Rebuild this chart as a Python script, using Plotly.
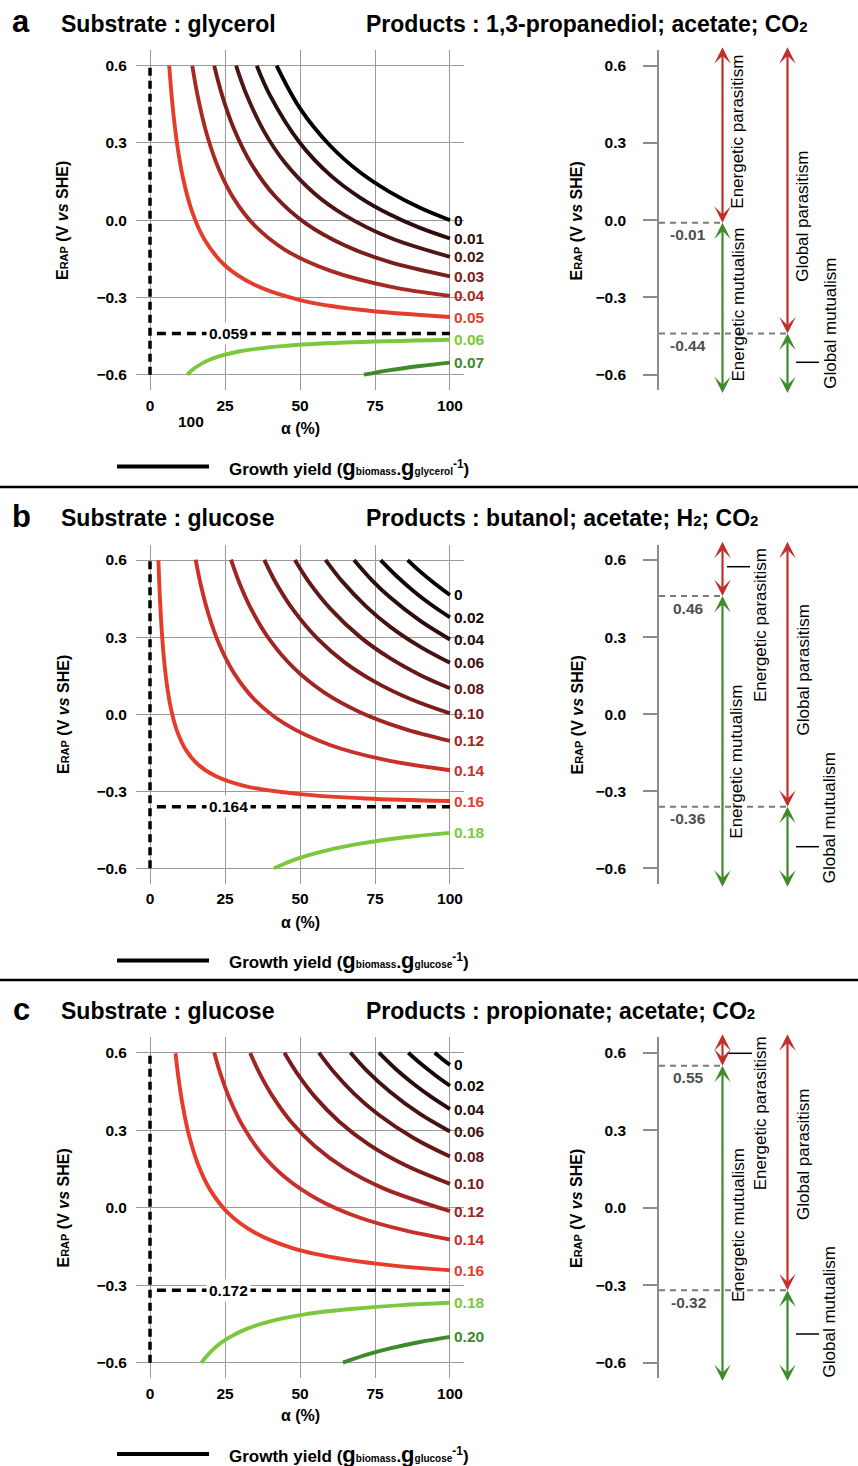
import plotly.graph_objects as go

# ======================= DATA =======================
# Panel a : glycerol -> 1,3-propanediol; acetate; CO2
a_labels = ["0", "0.01", "0.02", "0.03", "0.04", "0.05", "0.06", "0.07"]
a_alpha = [
    [42.2, 50, 60, 70, 80, 90, 100],
    [35.6, 40, 50, 60, 70, 80, 90, 100],
    [28.7, 32, 38, 45, 55, 65, 80, 100],
    [21.4, 24, 28, 34, 42, 52, 65, 80, 100],
    [14.1, 16, 19, 23, 28, 35, 45, 60, 80, 100],
    [6.4, 7.5, 9, 11, 14, 18, 25, 35, 50, 70, 100],
    [12.4, 15, 20, 30, 45, 65, 100],
    [71.3, 80, 90, 100],
]
a_erap = [
    [0.60, 0.434, 0.290, 0.186, 0.109, 0.048, 0.0],
    [0.60, 0.485, 0.300, 0.176, 0.088, 0.022, -0.030, -0.071],
    [0.60, 0.492, 0.345, 0.223, 0.102, 0.019, -0.068, -0.142],
    [0.60, 0.487, 0.354, 0.214, 0.089, -0.013, -0.098, -0.163, -0.218],
    [0.60, 0.476, 0.331, 0.197, 0.083, -0.022, -0.115, -0.196, -0.258, -0.294],
    [0.60, 0.447, 0.299, 0.164, 0.034, -0.072, -0.176, -0.252, -0.310, -0.348, -0.376],
    [-0.60, -0.573, -0.541, -0.509, -0.488, -0.475, -0.464],
    [-0.60, -0.582, -0.566, -0.553],
]
a_colors = ["#000000", "#2b0f0f", "#4d1616", "#7a1e1c", "#a82a24", "#e63c2b", "#7cc83c", "#3e8a2b"]
a_yield_limit = "0.059"
a_energetic_limit, a_energetic_text = -0.01, "-0.01"
a_global_limit, a_global_text = -0.44, "-0.44"

# Panel b : glucose -> butanol; acetate; H2; CO2
b_labels = ["0", "0.02", "0.04", "0.06", "0.08", "0.10", "0.12", "0.14", "0.16", "0.18"]
b_alpha = [
    [85.9, 90, 95, 100],
    [76.9, 82, 88, 94, 100],
    [68, 74, 80, 90, 100],
    [58.5, 64, 72, 80, 90, 100],
    [48.3, 53, 60, 70, 80, 90, 100],
    [38.1, 42, 48, 56, 65, 75, 87, 100],
    [27, 30, 34, 40, 48, 58, 70, 84, 100],
    [15.2, 17, 19.5, 23, 28, 35, 45, 60, 78, 100],
    [2.8, 3.2, 3.8, 4.6, 5.6, 7, 9, 12, 16, 22, 32, 50, 72, 100],
    [41.3, 45, 50, 60, 70, 85, 100],
]
b_erap = [
    [0.600, 0.556, 0.508, 0.464],
    [0.600, 0.540, 0.478, 0.424, 0.377],
    [0.600, 0.521, 0.455, 0.364, 0.291],
    [0.601, 0.518, 0.420, 0.341, 0.263, 0.200],
    [0.600, 0.514, 0.412, 0.301, 0.218, 0.153, 0.101],
    [0.601, 0.511, 0.402, 0.292, 0.201, 0.126, 0.058, 0.003],
    [0.602, 0.505, 0.403, 0.288, 0.179, 0.085, 0.008, -0.054, -0.104],
    [0.602, 0.500, 0.389, 0.274, 0.160, 0.055, -0.038, -0.120, -0.177, -0.218],
    [0.599, 0.479, 0.346, 0.222, 0.117, 0.021, -0.065, -0.140, -0.196, -0.242, -0.281, -0.311, -0.328, -0.338],
    [-0.600, -0.581, -0.559, -0.527, -0.504, -0.479, -0.462],
]
b_colors = ["#000000", "#160707", "#2a0c0c", "#451212", "#601818", "#7a1c1c", "#a02624", "#c8302a", "#e63c2b", "#7cc83c"]
b_yield_limit = "0.164"
b_energetic_limit, b_energetic_text = 0.46, "0.46"
b_global_limit, b_global_text = -0.36, "-0.36"

# Panel c : glucose -> propionate; acetate; CO2
c_labels = ["0", "0.02", "0.04", "0.06", "0.08", "0.10", "0.12", "0.14", "0.16", "0.18", "0.20"]
c_alpha = [
    [94.9, 97.5, 100],
    [86.1, 90, 95, 100],
    [76.3, 82, 88, 94, 100],
    [66.8, 72, 80, 90, 100],
    [56.3, 61, 68, 76, 88, 100],
    [44.8, 49, 55, 63, 73, 85, 100],
    [33.4, 36.5, 41, 47, 55, 65, 78, 100],
    [21.4, 23.5, 26.5, 31, 37, 45, 56, 70, 85, 100],
    [8.5, 9.5, 11, 13, 16, 20, 26, 35, 48, 65, 82, 100],
    [17.1, 19, 22, 26, 32, 40, 52, 68, 84, 100],
    [64.3, 72, 80, 90, 100],
]
c_erap = [
    [0.600, 0.575, 0.553],
    [0.600, 0.560, 0.514, 0.472],
    [0.600, 0.536, 0.478, 0.427, 0.382],
    [0.601, 0.534, 0.449, 0.363, 0.295],
    [0.600, 0.529, 0.442, 0.362, 0.269, 0.198],
    [0.600, 0.521, 0.429, 0.334, 0.244, 0.165, 0.092],
    [0.599, 0.521, 0.429, 0.333, 0.238, 0.152, 0.074, -0.013],
    [0.601, 0.518, 0.423, 0.315, 0.212, 0.118, 0.032, -0.039, -0.088, -0.123],
    [0.598, 0.501, 0.389, 0.280, 0.168, 0.070, -0.020, -0.097, -0.158, -0.200, -0.225, -0.242],
    [-0.601, -0.573, -0.538, -0.505, -0.470, -0.440, -0.412, -0.391, -0.377, -0.368],
    [-0.600, -0.570, -0.545, -0.520, -0.500],
]
c_colors = ["#000000", "#160707", "#2a0c0c", "#451212", "#601818", "#7a1c1c", "#a02624", "#c8302a", "#e63c2b", "#7cc83c", "#3e8a2b"]
c_yield_limit = "0.172"
c_energetic_limit, c_energetic_text = 0.55, "0.55"
c_global_limit, c_global_text = -0.32, "-0.32"

alpha_ticks = [0, 25, 50, 75, 100]
erap_ticks = [-0.6, -0.3, 0.0, 0.3, 0.6]
erap_ticktext = ["\u22120.6", "\u22120.3", "0.0", "0.3", "0.6"]

# ======================= STYLE / LAYOUT =======================
W, H = 858, 1466
FONT = "Liberation Sans, Arial, sans-serif"
RED, GREEN = "#c0302a", "#3f8b2c"
AXGRAY = "#8c8c8c"
ARROW_END = 0.677  # arrows run slightly beyond the +-0.6 span
YR = 0.66


def px(x):
    return x / W


def py(y):
    return 1 - y / H


panels = [
    dict(tag="a", substrate="glycerol",
         products="1,3-propanediol; acetate; CO<span style='font-size:15px'>2</span>",
         labels=a_labels, alpha=a_alpha, erap=a_erap, colors=a_colors,
         ylim=a_yield_limit, el=a_energetic_limit, et=a_energetic_text,
         gl=a_global_limit, gt=a_global_text, yc=220.2, s=257.5,
         texts=[(738, 131.7), (738, 304.5), (802.5, 216.3), (830.5, 323.3)],
         leaders=[(796, 819, 362.3)], extra100=True),
    dict(tag="b", substrate="glucose",
         products="butanol; acetate; H<span style='font-size:15px'>2</span>; CO<span style='font-size:15px'>2</span>",
         labels=b_labels, alpha=b_alpha, erap=b_erap, colors=b_colors,
         ylim=b_yield_limit, el=b_energetic_limit, et=b_energetic_text,
         gl=b_global_limit, gt=b_global_text, yc=714.2, s=256.9,
         texts=[(760, 625), (737, 761.7), (802.5, 670), (829, 818.3)],
         leaders=[(727, 750, 566.7), (796, 819, 846.7)], extra100=False),
    dict(tag="c", substrate="glucose",
         products="propionate; acetate; CO<span style='font-size:15px'>2</span>",
         labels=c_labels, alpha=c_alpha, erap=c_erap, colors=c_colors,
         ylim=c_yield_limit, el=c_energetic_limit, et=c_energetic_text,
         gl=c_global_limit, gt=c_global_text, yc=1207.7, s=258.3,
         texts=[(760, 1113.3), (738, 1225), (803, 1155), (829.7, 1311.7)],
         leaders=[(727, 752, 1053.3), (796, 819, 1334)], extra100=False),
]

fig = go.Figure()
layout = dict(width=W, height=H, margin=dict(l=0, r=0, t=0, b=0),
              paper_bgcolor="white", plot_bgcolor="white", showlegend=False,
              font=dict(family=FONT, color="black"))
annotations = []
shapes = []

ytitle = "<b>E<span style='font-size:11px'>RAP</span> (V <i>vs</i> SHE)</b>"

for i, p in enumerate(panels):
    nl, nr = 2 * i + 1, 2 * i + 2
    kl = "" if nl == 1 else str(nl)
    kr = str(nr)
    xl, yl, xr, yr = "x" + kl, "y" + kl, "x" + kr, "y" + kr
    off = p["yc"] - 220.2
    ytop, ybot = p["yc"] - YR * p["s"], p["yc"] + YR * p["s"]
    ydom = [py(ybot), py(ytop)]

    layout["xaxis" + kl] = dict(domain=[px(136), px(464)], range=[-4.67, 104.67], anchor=yl,
                                tickvals=alpha_ticks, ticks="", showgrid=True, gridcolor="#9a9a9a",
                                gridwidth=1.2, zeroline=False, showline=False,
                                tickfont=dict(size=15.5, weight="bold", family=FONT),
                                ticklabelstandoff=4)
    layout["yaxis" + kl] = dict(domain=ydom, range=[-YR, YR], anchor=xl,
                                tickvals=erap_ticks, ticktext=erap_ticktext, ticks="",
                                showgrid=True, gridcolor="#9a9a9a", gridwidth=1.2,
                                zeroline=False, showline=False,
                                tickfont=dict(size=15.5, weight="bold", family=FONT),
                                ticklabelstandoff=8)
    layout["xaxis" + kr] = dict(domain=[px(659), 1.0], range=[659, 858], anchor=yr,
                                visible=False, showgrid=False, zeroline=False)
    layout["yaxis" + kr] = dict(domain=ydom, range=[-YR, YR], anchor=xr,
                                tickvals=erap_ticks, ticktext=erap_ticktext, ticks="outside",
                                ticklen=14, tickwidth=1.5, tickcolor=AXGRAY, showline=True,
                                linecolor=AXGRAY, linewidth=1.5, showgrid=False, zeroline=False,
                                tickfont=dict(size=15.5, weight="bold", family=FONT),
                                ticklabelstandoff=14)

    # ---- left: dashed limit lines ----
    fig.add_trace(go.Scatter(x=[0, 0], y=[erap_ticks[0], erap_ticks[-1]], mode="lines",
                             line=dict(color="black", width=3.5, dash="8px,5px"),
                             xaxis=xl, yaxis=yl, hoverinfo="skip"))
    fig.add_trace(go.Scatter(x=[2.3, 100], y=[p["gl"], p["gl"]], mode="lines",
                             line=dict(color="black", width=3.5, dash="9px,6px"),
                             xaxis=xl, yaxis=yl, hoverinfo="skip"))
    # ---- left: growth-yield curves ----
    for lab, xs, ys, col in zip(p["labels"], p["alpha"], p["erap"], p["colors"]):
        fig.add_trace(go.Scatter(x=xs, y=ys, mode="lines", line=dict(color=col, width=3.9, shape="spline"),
                                 xaxis=xl, yaxis=yl, name=lab, hoverinfo="skip"))
        annotations.append(dict(x=100, y=ys[-1], xref=xl, yref=yl, text="<b>%s</b>" % lab,
                                showarrow=False, xanchor="left", yanchor="middle", xshift=2,
                                font=dict(size=15.5, color=col, family=FONT)))
    annotations.append(dict(x=26, y=p["gl"], xref=xl, yref=yl, text="<b>%s</b>" % p["ylim"],
                            showarrow=False, xanchor="center", yanchor="middle", bgcolor="white",
                            borderpad=2, font=dict(size=15.5, color="black", family=FONT)))

    # ---- right: dashed threshold lines ----
    fig.add_trace(go.Scatter(x=[659, 722.5], y=[p["el"], p["el"]], mode="lines",
                             line=dict(color="#7a7a7a", width=2, dash="6px,5px"),
                             xaxis=xr, yaxis=yr, hoverinfo="skip"))
    fig.add_trace(go.Scatter(x=[659, 787.5], y=[p["gl"], p["gl"]], mode="lines",
                             line=dict(color="#7a7a7a", width=2, dash="6px,5px"),
                             xaxis=xr, yaxis=yr, hoverinfo="skip"))
    for val, txt in ((p["el"], p["et"]), (p["gl"], p["gt"])):
        annotations.append(dict(x=688, y=val, xref=xr, yref=yr, text="<b>%s</b>" % txt,
                                showarrow=False, xanchor="center", yanchor="middle", yshift=-12,
                                font=dict(size=15.5, color="#505050", family=FONT)))
    # ---- right: arrows ----
    for xcol, val in ((722.5, p["el"]), (787.5, p["gl"])):
        for tail, col in ((ARROW_END, RED), (-ARROW_END, GREEN)):
            annotations.append(dict(x=xcol, y=val, ax=xcol, ay=tail, xref=xr, yref=yr,
                                    axref=xr, ayref=yr, text="", showarrow=True,
                                    arrowhead=3, startarrowhead=3, arrowside="end+start",
                                    arrowsize=1.25, startarrowsize=1.25, arrowwidth=2.2,
                                    arrowcolor=col, standoff=0, startstandoff=0))
    names = ["Energetic parasitism", "Energetic mutualism", "Global parasitism", "Global mutualism"]
    for name, (tx, ty) in zip(names, p["texts"]):
        annotations.append(dict(x=px(tx), y=py(ty), xref="paper", yref="paper", text=name,
                                textangle=-90, showarrow=False, xanchor="center", yanchor="middle",
                                font=dict(size=17, color="black", family=FONT)))
    for x0, x1, yy in p["leaders"]:
        shapes.append(dict(type="line", xref="paper", yref="paper", x0=px(x0), x1=px(x1),
                           y0=py(yy), y1=py(yy), line=dict(color="black", width=1.5)))

    # ---- titles and texts ----
    annotations.append(dict(x=px(21), y=py(22 + off), xref="paper", yref="paper",
                            text="<b>%s</b>" % p["tag"], showarrow=False, xanchor="center",
                            yanchor="middle", font=dict(size=31, family=FONT)))
    annotations.append(dict(x=px(59), y=py(23.5 + off), xref="paper", yref="paper",
                            text="<b>Substrate : %s</b>" % p["substrate"], showarrow=False,
                            xanchor="left", yanchor="middle", font=dict(size=23, family=FONT)))
    annotations.append(dict(x=px(364), y=py(23.5 + off), xref="paper", yref="paper",
                            text="<b>Products : %s</b>" % p["products"], showarrow=False,
                            xanchor="left", yanchor="middle", font=dict(size=23, family=FONT)))
    for tx in (63, 576.5):
        annotations.append(dict(x=px(tx), y=py(221 + off), xref="paper", yref="paper",
                                text=ytitle, textangle=-90, showarrow=False, xanchor="center",
                                yanchor="middle", font=dict(size=16, family=FONT)))
    annotations.append(dict(x=px(300), y=py(428 + off), xref="paper", yref="paper",
                            text="<b>\u03b1 (%)</b>", showarrow=False, xanchor="center",
                            yanchor="middle", font=dict(size=16, family=FONT)))
    if p["extra100"]:
        annotations.append(dict(x=px(191), y=py(421), xref="paper", yref="paper",
                                text="<b>100</b>", showarrow=False, xanchor="center",
                                yanchor="middle", font=dict(size=15.5, family=FONT)))
    unit = "glycerol" if i == 0 else "glucose"
    annotations.append(dict(
        x=px(227), y=py(467 + off), xref="paper", yref="paper", showarrow=False,
        xanchor="left", yanchor="middle", font=dict(size=17, family=FONT),
        text=("<b>Growth yield (<span style='font-size:22px'>g</span>"
              "<span style='font-size:10px'>biomass</span>.<span style='font-size:22px'>g</span>"
              "<span style='font-size:10px'>%s</span><sup>-1</sup>)</b>") % unit))
    shapes.append(dict(type="line", xref="paper", yref="paper", x0=px(117), x1=px(209),
                       y0=py(466.5 + off), y1=py(466.5 + off), line=dict(color="black", width=4)))

for yy in (487, 980):
    shapes.append(dict(type="line", xref="paper", yref="paper", x0=0, x1=1,
                       y0=py(yy), y1=py(yy), line=dict(color="black", width=2.5)))

layout["annotations"] = annotations
layout["shapes"] = shapes
fig.update_layout(**layout)
fig.write_html("out.html", config={"displayModeBar": False},
               post_script="document.body.style.margin='0px';")
